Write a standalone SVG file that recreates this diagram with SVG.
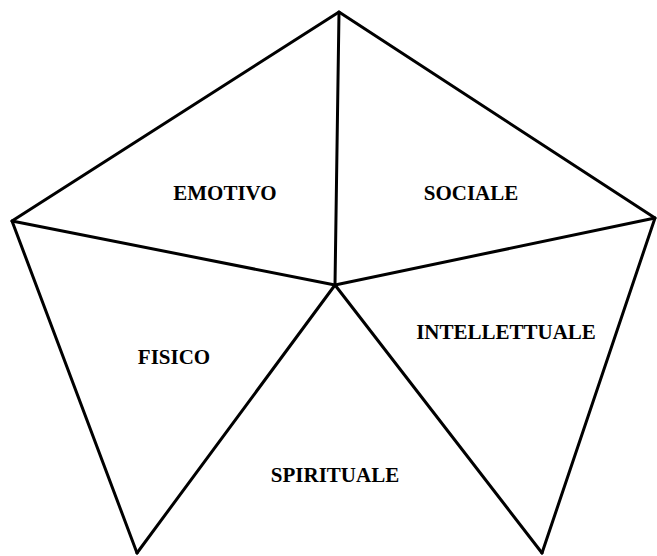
<svg xmlns="http://www.w3.org/2000/svg" width="657" height="556" viewBox="0 0 657 556">
<style>
.l{stroke:#000;stroke-width:3;fill:none;stroke-linecap:round;stroke-linejoin:round}
.t{font-family:"Liberation Serif","Times New Roman",serif;font-weight:bold;font-size:21px;fill:#000;text-anchor:middle}
</style>
<rect width="657" height="556" fill="#fff"/>
<g id="connectors">
<polyline class="l" points="137,553 12,221 339,12 655,218 542,553"/>
<line class="l" x1="335" y1="285" x2="339" y2="12"/>
<line class="l" x1="335" y1="285" x2="12" y2="221"/>
<line class="l" x1="335" y1="285" x2="655" y2="218"/>
<line class="l" x1="335" y1="285" x2="137" y2="553"/>
<line class="l" x1="335" y1="285" x2="542" y2="553"/>
</g>
<g id="emotivo"><text class="t" x="225" y="200">EMOTIVO</text></g>
<g id="sociale"><text class="t" x="471" y="200">SOCIALE</text></g>
<g id="intellettuale"><text class="t" x="506" y="339">INTELLETTUALE</text></g>
<g id="fisico"><text class="t" x="174" y="364">FISICO</text></g>
<g id="spirituale"><text class="t" x="335" y="482">SPIRITUALE</text></g>
</svg>
